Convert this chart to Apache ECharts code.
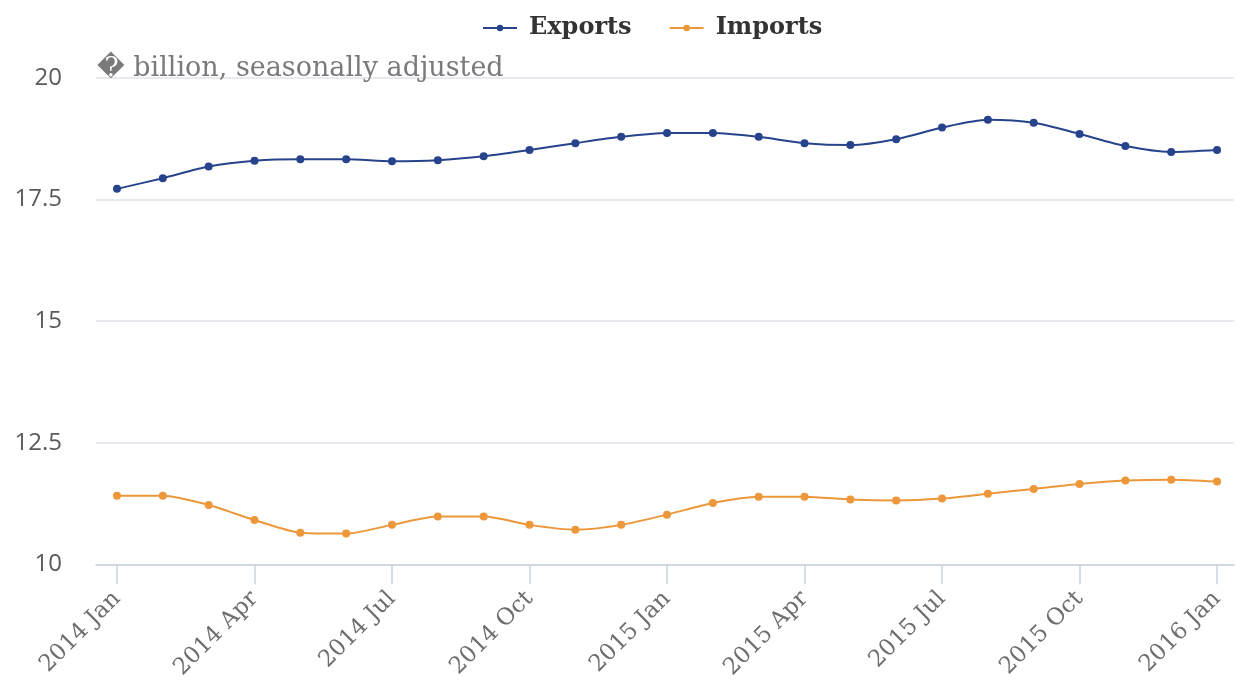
<!DOCTYPE html>
<html>
<head>
<meta charset="utf-8">
<title>Exports and Imports</title>
<script src="https://cdn.jsdelivr.net/npm/echarts@6/dist/echarts.min.js"></script>
<style>
  html, body { margin: 0; padding: 0; background: #ffffff; }
  #chart { width: 1237px; height: 682px; }
</style>
</head>
<body>
<div id="chart"></div>
<script>
// Monthly categories, January 2014 to January 2016
const months = [
  '2014 Jan', '2014 Feb', '2014 Mar', '2014 Apr', '2014 May', '2014 Jun',
  '2014 Jul', '2014 Aug', '2014 Sep', '2014 Oct', '2014 Nov', '2014 Dec',
  '2015 Jan', '2015 Feb', '2015 Mar', '2015 Apr', '2015 May', '2015 Jun',
  '2015 Jul', '2015 Aug', '2015 Sep', '2015 Oct', '2015 Nov', '2015 Dec',
  '2016 Jan'
];

// Values in billions, seasonally adjusted
const exportsValues = [
  17.72, 17.94, 18.18, 18.30, 18.33, 18.33, 18.29, 18.31, 18.39, 18.52, 18.66, 18.79,
  18.87, 18.87, 18.79, 18.66, 18.62, 18.74, 18.98, 19.14, 19.08, 18.85, 18.60, 18.48,
  18.52
];
const importsValues = [
  11.41, 11.41, 11.22, 10.91, 10.65, 10.63, 10.81, 10.98, 10.98, 10.81, 10.71, 10.81,
  11.02, 11.26, 11.39, 11.39, 11.33, 11.31, 11.35, 11.45, 11.55, 11.65, 11.72, 11.74,
  11.70
];

// Labelled months (every quarter)
const labelledMonths = ['2014 Jan', '2014 Apr', '2014 Jul', '2014 Oct', '2015 Jan',
  '2015 Apr', '2015 Jul', '2015 Oct', '2016 Jan'];

const seriesNames = ['Exports', 'Imports'];
const unitText = '\uFFFD billion, seasonally adjusted';

const yTicks = { min: 10, max: 20, step: 2.5 };

const labelPositions = labelledMonths.map(m => months.indexOf(m));
const toPairs = vals => vals.map((v, i) => [i, v]);

const chart = echarts.init(document.getElementById('chart'), null, { renderer: 'canvas' });

const serifFont = '"DejaVu Serif", "Liberation Serif", serif';
const sansFont = '"Open Sans", "Noto Sans", sans-serif';

chart.setOption({
  animation: false,
  backgroundColor: '#ffffff',
  title: {
    text: unitText,
    left: 92,
    top: 50,
    textStyle: {
      fontFamily: serifFont,
      fontWeight: 'normal',
      fontSize: 27,
      color: '#7a7a7a'
    }
  },
  legend: {
    data: seriesNames,
    top: 11,
    left: 477,
    itemWidth: 34,
    itemHeight: 8,
    itemGap: 37,
    textStyle: {
      fontFamily: serifFont,
      fontWeight: 'bold',
      fontSize: 24,
      color: '#333333',
      padding: [0, 0, 0, 7]
    }
  },
  grid: {
    left: 96,
    right: 3,
    top: 78,
    bottom: 116,
    containLabel: false
  },
  xAxis: {
    type: 'value',
    min: -0.458,
    max: 24.37,
    splitLine: { show: false },
    axisLine: { show: true, lineStyle: { color: '#c9d3e0', width: 1.5 } },
    axisTick: {
      show: true,
      customValues: labelPositions,
      length: 20,
      lineStyle: { color: '#c9d3e0', width: 1.5 }
    },
    axisLabel: {
      customValues: labelPositions,
      rotate: 45,
      margin: 31,
      fontFamily: serifFont,
      fontSize: 23,
      color: '#6e6e6e',
      formatter: v => months[Math.round(v)]
    }
  },
  yAxis: {
    type: 'value',
    min: yTicks.min,
    max: yTicks.max,
    interval: yTicks.step,
    axisLine: { show: false },
    axisTick: { show: false },
    splitLine: { lineStyle: { color: '#dfe4ea', width: 1.5 } },
    axisLabel: {
      margin: 34,
      fontFamily: sansFont,
      fontSize: 24,
      color: '#5a5a5a',
      formatter: v => String(v)
    }
  },
  series: [
    {
      name: seriesNames[0],
      type: 'line',
      data: toPairs(exportsValues),
      smooth: 0.25,
      symbol: 'circle',
      symbolSize: 8,
      color: '#27438c',
      lineStyle: { width: 2, color: '#27438c' },
      itemStyle: { color: '#27438c' }
    },
    {
      name: seriesNames[1],
      type: 'line',
      data: toPairs(importsValues),
      smooth: 0.25,
      symbol: 'circle',
      symbolSize: 8,
      color: '#ec973a',
      lineStyle: { width: 2, color: '#ec973a' },
      itemStyle: { color: '#ec973a' }
    }
  ]
});
</script>
</body>
</html>
